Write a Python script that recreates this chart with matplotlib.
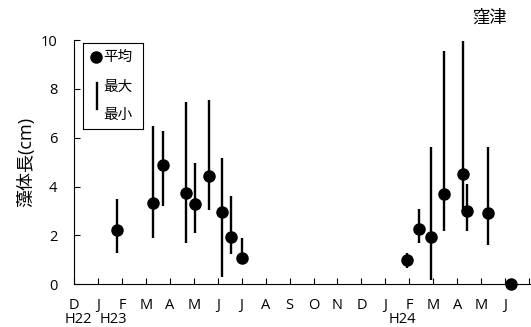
import numpy as np
import matplotlib
matplotlib.use('Agg')
import matplotlib.pyplot as plt

plt.rcParams['font.family'] = ['Open Sans', 'Noto Sans CJK JP', 'DejaVu Sans']

# month labels along x (index 0 = Dec H22)
months = ['D', 'J', 'F', 'M', 'A', 'M', 'J', 'J', 'A', 'S', 'O', 'N',
          'D', 'J', 'F', 'M', 'A', 'M', 'J']
year_labels = ['H22', 'H23', 'H24']
year_pos = [0.18, 1.65, 13.72]

# sampling dates as month-index positions
x_pos = [1.79, 3.29, 3.71, 4.67, 5.06, 5.62, 6.19, 6.57, 7.03,
         13.92, 14.39, 14.90, 15.44, 16.26, 16.40, 17.29, 18.24]
mean = [2.24, 3.31, 4.87, 3.75, 3.27, 4.42, 2.96, 1.92, 1.09,
        0.99, 2.26, 1.92, 3.69, 4.50, 3.00, 2.92, 0.0]
vmax = [3.48, 6.47, 6.28, 7.45, 4.96, 7.56, 5.17, 3.60, 1.88,
        1.29, 3.10, 5.62, 9.56, 9.94, 4.09, 5.62, 0.0]
vmin = [1.29, 1.90, 3.21, 1.70, 2.11, 3.03, 0.31, 1.22, 0.82,
        0.65, 1.70, 0.18, 2.19, 3.00, 2.19, 1.60, 0.0]

W, H = 531, 327
fig = plt.figure(figsize=(W / 100, H / 100), dpi=100)
ax = fig.add_axes([74 / W, 1 - 284.3 / H, (531 - 74) / W, (284.3 - 40) / H])

ax.vlines(x_pos, vmin, vmax, color='black', lw=1.7, clip_on=False)
ax.plot(x_pos, mean, 'o', color='black', ms=8, clip_on=False, zorder=3)

ax.set_xlim(0, 19.08)
ax.set_ylim(0, 10)
ax.spines['top'].set_visible(False)
ax.spines['right'].set_visible(False)
ax.spines['left'].set_linewidth(0.8)
ax.spines['bottom'].set_linewidth(0.8)
ax.set_yticks([0, 2, 4, 6, 8, 10])
ax.set_xticks(np.arange(0, 20))
ax.set_xticklabels(months + [''])
ax.tick_params(axis='both', direction='in', length=4, width=0.8, labelsize=10.5)
ax.tick_params(axis='x', pad=10)
ax.tick_params(axis='y', pad=12)

for lab, xp in zip(year_labels, year_pos):
    ax.text(xp, -1.45, lab, ha='center', va='center', fontsize=10.5,
            clip_on=False)

ax.set_ylabel('藻体長(cm)', fontsize=13, labelpad=4)
fig.text(490 / W, 1 - 18 / H, '窪津', ha='center', va='center', fontsize=12.5)

# legend box
leg_ax = fig.add_axes([83.3 / W, 1 - 129.3 / H, (142.7 - 83.3) / W, (129.3 - 42.7) / H])
leg_ax.set_xlim(0, 1)
leg_ax.set_ylim(0, 1)
leg_ax.set_xticks([])
leg_ax.set_yticks([])
for s in leg_ax.spines.values():
    s.set_linewidth(0.8)
leg_ax.plot([0.21], [0.83], 'o', color='black', ms=8)
leg_ax.text(0.33, 0.83, '平均', va='center', fontsize=10.5)
leg_ax.plot([0.225, 0.225], [0.23, 0.54], color='black', lw=1.7)
leg_ax.text(0.33, 0.48, '最大', va='center', fontsize=10.5)
leg_ax.text(0.33, 0.155, '最小', va='center', fontsize=10.5)

fig.savefig('out.png', dpi=100)
